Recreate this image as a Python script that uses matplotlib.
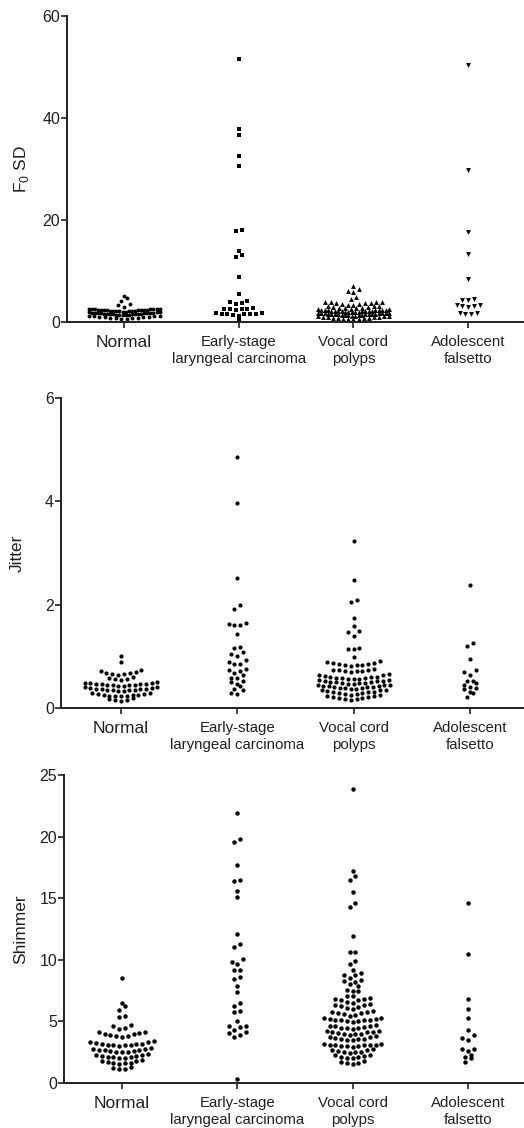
import numpy as np
import matplotlib.pyplot as plt

plt.rcParams['font.family'] = ['Liberation Sans', 'DejaVu Sans']
plt.rcParams['mathtext.fontset'] = 'custom'
plt.rcParams['mathtext.rm'] = 'Liberation Sans'

groups = ['Normal', 'Early-stage\nlaryngeal carcinoma', 'Vocal cord\npolyps', 'Adolescent\nfalsetto']

# F0 SD
f0_normal = [0.6, 0.65, 0.7, 0.75, 0.8, 0.85, 0.9, 0.95, 1.0, 1.05, 1.1, 1.15, 1.2, 1.2,
             1.3, 1.35, 1.4, 1.4, 1.45, 1.5, 1.5, 1.55, 1.55, 1.6, 1.6, 1.65, 1.65, 1.7, 1.7,
             1.75, 1.75, 1.8, 1.8, 1.85, 1.85, 1.9, 1.9, 1.92,
             2.0, 2.05, 2.1, 2.1, 2.15, 2.2, 2.2, 2.25, 2.25, 2.3, 2.3, 2.35, 2.35, 2.4, 2.4,
             2.45, 2.45, 2.5, 2.5, 2.55, 2.55, 2.6, 2.6, 2.62,
             2.9, 3.4, 3.5, 4.1, 4.7, 5.2]
f0_early = [51.6, 37.8, 36.7, 32.6, 30.6, 18.0, 17.8, 14.0, 13.1, 12.8, 8.8, 5.5,
            4.1, 3.9, 3.7, 3.5, 2.7, 2.6, 2.6, 2.5, 2.5, 2.4,
            1.7, 1.7, 1.6, 1.6, 1.6, 1.5, 1.5, 1.4, 1.2, 0.5]
f0_polyps = [0.5, 0.55, 0.6, 0.65, 0.7, 0.75, 0.8, 0.85, 0.9, 0.95, 1.0, 1.05, 1.1, 1.1, 1.15,
             1.2, 1.25, 1.3, 1.35, 1.4, 1.4, 1.45, 1.5, 1.5, 1.55, 1.55, 1.6, 1.6, 1.65, 1.65,
             1.7, 1.7, 1.75, 1.75, 1.8, 1.8, 1.85,
             1.9, 1.95, 2.0, 2.0, 2.05, 2.1, 2.1, 2.15, 2.15, 2.2, 2.2, 2.25, 2.25, 2.3, 2.3,
             2.35, 2.35, 2.4, 2.4, 2.45, 2.5, 2.55,
             2.6, 2.7, 2.75, 2.8, 2.85, 2.9, 3.0, 3.05, 3.1, 3.2,
             3.3, 3.4, 3.5, 3.6, 3.7, 3.75, 3.8, 3.85, 3.9, 3.95, 3.95,
             4.6, 5.0, 5.8, 6.1, 6.4, 7.0]
f0_falsetto = [50.4, 29.8, 17.6, 13.3, 8.5, 4.5, 4.4, 4.3, 3.4, 3.3, 3.2, 3.1, 3.0,
               1.8, 1.7, 1.6, 1.5]

# Jitter
jit_normal = [0.13, 0.15, 0.16, 0.18, 0.2,
              0.23, 0.23, 0.24, 0.24, 0.25, 0.25, 0.26, 0.27, 0.28, 0.29, 0.3,
              0.33, 0.33, 0.34, 0.34, 0.35, 0.35, 0.36, 0.36, 0.37, 0.37, 0.38, 0.39, 0.4, 0.41,
              0.43, 0.43, 0.44, 0.44, 0.45, 0.45, 0.46, 0.46, 0.47, 0.47, 0.48, 0.48, 0.49, 0.5,
              0.54, 0.56, 0.57, 0.58, 0.6,
              0.64, 0.65, 0.66, 0.67, 0.68, 0.7, 0.71, 0.73,
              0.89, 1.0]
jit_early = [4.86, 3.96, 2.51, 2.0, 1.91, 1.64, 1.62, 1.61, 1.61, 1.43, 1.19, 1.16,
             1.08, 1.04, 1.01, 0.93, 0.9, 0.86, 0.86, 0.75, 0.74, 0.72, 0.68, 0.64,
             0.59, 0.58, 0.53, 0.5, 0.47, 0.42, 0.37, 0.35, 0.3, 0.27]
jit_polyps = [0.16, 0.17, 0.18, 0.19, 0.2, 0.21, 0.22, 0.23, 0.24, 0.25,
              0.26, 0.27, 0.28, 0.29, 0.3, 0.31, 0.31, 0.32, 0.33, 0.34, 0.34, 0.35,
              0.36, 0.37, 0.38, 0.38, 0.39, 0.4, 0.4, 0.41, 0.42, 0.42, 0.43, 0.44, 0.44, 0.45,
              0.46, 0.47, 0.48, 0.48, 0.49, 0.5, 0.5, 0.51, 0.52, 0.52, 0.53, 0.54, 0.55,
              0.56, 0.57, 0.57, 0.58, 0.59, 0.59, 0.6, 0.61, 0.61, 0.62, 0.63, 0.64, 0.65,
              0.7, 0.71, 0.71, 0.72, 0.73, 0.73, 0.74, 0.75,
              0.82, 0.83, 0.83, 0.84, 0.85, 0.86, 0.87, 0.88, 0.9, 0.91,
              0.99, 1.14, 1.15, 1.16, 1.4, 1.48, 1.49, 1.58, 1.74, 2.05, 2.09, 2.48, 3.23]
jit_falsetto = [2.38, 1.26, 1.2, 0.95, 0.73, 0.7, 0.64, 0.53, 0.52, 0.48, 0.45, 0.41,
                0.39, 0.36, 0.31, 0.29, 0.21]

# Shimmer
shim_normal = [1.1, 1.15, 1.25, 1.3,
               1.55, 1.6, 1.6, 1.65, 1.7, 1.75, 1.8, 1.85,
               2.0, 2.05, 2.1, 2.1, 2.15, 2.2, 2.2, 2.25, 2.3, 2.35,
               2.5, 2.5, 2.55, 2.6, 2.6, 2.65, 2.7, 2.7, 2.75, 2.8, 2.85,
               3.0, 3.05, 3.05, 3.1, 3.1, 3.15, 3.15, 3.2, 3.25, 3.3, 3.35, 3.4,
               3.75, 3.8, 3.85, 3.9, 3.95, 4.0, 4.05, 4.1, 4.15,
               4.4, 4.45, 4.65, 4.7, 5.35, 5.4, 5.9, 6.25, 6.5, 8.5]
shim_early = [21.95, 19.8, 19.6, 17.7, 16.5, 16.4, 15.6, 15.1, 12.1, 11.3, 11.0, 10.05,
              9.8, 9.7, 9.2, 9.15, 8.6, 8.45, 7.85, 7.4, 6.5, 6.25, 5.85, 5.8, 5.0,
              4.6, 4.6, 4.55, 4.3, 4.15, 4.05, 3.9, 3.75, 0.35]
shim_polyps = [1.55, 1.6, 1.65, 1.7, 1.8,
               2.0, 2.05, 2.1, 2.1, 2.2, 2.25, 2.3,
               2.45, 2.5, 2.5, 2.55, 2.6, 2.65, 2.7, 2.75,
               2.95, 3.0, 3.0, 3.0, 3.05, 3.05, 3.1, 3.1, 3.1, 3.15, 3.15,
               3.45, 3.5, 3.55, 3.6, 3.6, 3.65, 3.7, 3.75, 3.8,
               3.9, 3.95, 4.0, 4.0, 4.05, 4.1, 4.1, 4.15, 4.2, 4.25,
               4.4, 4.45, 4.5, 4.5, 4.55, 4.6, 4.6, 4.65, 4.7,
               4.95, 5.0, 5.05, 5.1, 5.1, 5.15, 5.15, 5.2, 5.2, 5.25, 5.3,
               5.45, 5.55, 5.6, 5.65, 5.7, 5.75, 5.8, 5.85,
               6.0, 6.1, 6.2, 6.25, 6.3, 6.35, 6.4,
               6.5, 6.6, 6.7, 6.75, 6.8, 6.85, 6.9,
               7.05, 7.1, 7.45, 7.5, 7.55, 7.9, 8.0, 8.2, 8.25, 8.4, 8.5, 8.75, 8.8,
               8.9, 9.15, 9.7, 9.9, 10.6, 10.6, 11.95, 14.25, 14.65, 15.5, 16.5, 16.8,
               17.2, 23.85]
shim_falsetto = [14.6, 10.5, 6.8, 6.0, 5.3, 4.3, 3.9, 3.65, 3.5, 2.8, 2.75, 2.6, 2.25,
                 2.15, 2.0, 1.7]


def row_layout(vals, h, dx=0.05, maxw=0.62):
    # prism-like rows: values within h share a row, lowest in the middle
    vals = np.asarray(vals, float)
    order = np.argsort(vals, kind='stable')
    xs = np.zeros(len(vals))
    n = len(vals)
    i = 0
    while i < n:
        j = i
        while j < n and vals[order[j]] - vals[order[i]] < h:
            j += 1
        m = j - i
        step = dx if m < 2 else min(dx, maxw / (m - 1))
        pos = (np.arange(m) - (m - 1) / 2) * step
        slots = sorted(range(m), key=lambda k: (round(abs(pos[k]), 6), pos[k]))
        for r, k in enumerate(slots):
            xs[order[i + r]] = pos[k]
        i = j
    return xs


ink = '#231f20'
fig = plt.figure(figsize=(5.24, 11.28), dpi=100)

panels = [
    dict(data=[f0_normal, f0_early, f0_polyps, f0_falsetto], rect=[0.128, 0.7145, 0.872, 0.2713],
         xlim=(-0.497, 3.487), ylim=(0, 60), yt=[0, 20, 40, 60], h=0.68,
         label=r'F$_\mathregular{0}$ SD', markers=['o', 's', '^', 'v'], ms=[2.8, 3.4, 3.5, 3.5]),
    dict(data=[jit_normal, jit_early, jit_polyps, jit_falsetto], rect=[0.1164, 0.3723, 0.8836, 0.2748],
         xlim=(-0.516, 3.465), ylim=(0, 6), yt=[0, 2, 4, 6], h=0.095,
         label='Jitter', markers=['o'] * 4, ms=[3.0] * 4),
    dict(data=[shim_normal, shim_early, shim_polyps, shim_falsetto], rect=[0.1221, 0.0399, 0.8779, 0.273],
         xlim=(-0.503, 3.487), ylim=(0, 25), yt=[0, 5, 10, 15, 20, 25], h=0.42,
         label='Shimmer', markers=['o'] * 4, ms=[3.2] * 4),
]

for p in panels:
    ax = fig.add_axes(p['rect'])
    for g, vals in enumerate(p['data']):
        xs = g + row_layout(vals, p['h'])
        ax.plot(xs, vals, linestyle='none', marker=p['markers'][g], ms=p['ms'][g],
                color='black', mec='black', mew=0, clip_on=False)
    ax.set_xlim(*p['xlim'])
    ax.set_ylim(*p['ylim'])
    ax.set_yticks(p['yt'])
    ax.set_xticks(range(4))
    ax.set_xticklabels(groups, linespacing=1.25)
    for k, t in enumerate(ax.get_xticklabels()):
        t.set_fontsize(12.5 if k == 0 else 10.8)
        t.set_color(ink)
    ax.tick_params(axis='y', labelsize=11.5, length=4, width=1.2, pad=1, colors=ink)
    ax.tick_params(axis='x', length=4.5, width=1.2, pad=5, colors=ink)
    for s in ['top', 'right']:
        ax.spines[s].set_visible(False)
    for s in ['left', 'bottom']:
        ax.spines[s].set_linewidth(1.4)
        ax.spines[s].set_color(ink)
    ax.set_ylabel(p['label'], fontsize=12.5, color=ink)
    ax.yaxis.set_label_coords(-0.078, 0.5)

fig.savefig('out.png', dpi=100)
